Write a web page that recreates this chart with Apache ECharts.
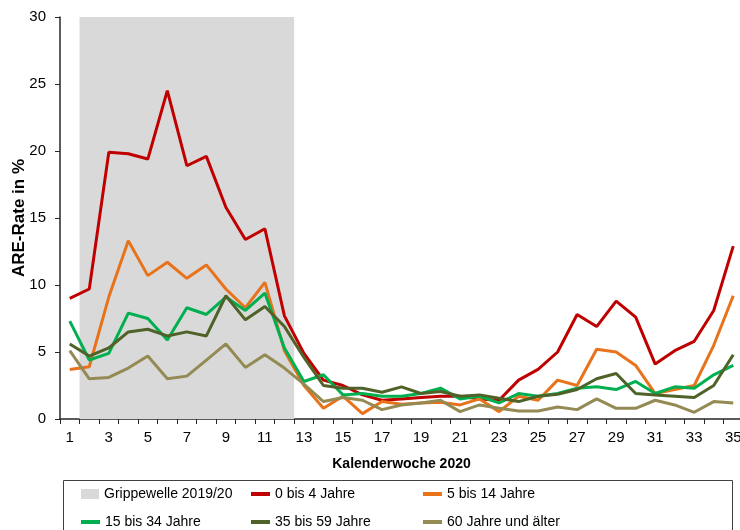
<!DOCTYPE html>
<html>
<head>
<meta charset="utf-8">
<script src="https://cdn.jsdelivr.net/npm/echarts@6/dist/echarts.min.js"></script>
<style>
  html, body { margin: 0; padding: 0; background: #fff; }
  #chart { width: 740px; height: 530px; }
</style>
</head>
<body>
<div id="chart"></div>
<script>
// Kalenderwochen 1..35
const weeks = ['1','2','3','4','5','6','7','8','9','10','11','12','13','14','15','16','17','18',
  '19','20','21','22','23','24','25','26','27','28','29','30','31','32','33','34','35']

// ARE-Rate in % je Altersgruppe
const age0to4 = [9.0, 9.7, 19.9, 19.8, 19.4, 24.5, 18.9, 19.6, 15.8, 13.4, 14.2, 7.7, 4.9, 2.9, 2.5, 1.8, 1.4, 1.5,
  1.6, 1.7, 1.7, 1.5, 1.4, 2.9, 3.7, 5.0, 7.8, 6.9, 8.8, 7.6, 4.1, 5.1, 5.8, 8.1, 12.9]
const age5to14 = [3.7, 3.9, 9.1, 13.3, 10.7, 11.7, 10.5, 11.5, 9.7, 8.3, 10.2, 5.1, 2.5, 0.8, 1.7, 0.4, 1.3, 1.1,
  1.2, 1.25, 1.05, 1.5, 0.55, 1.7, 1.4, 2.9, 2.5, 5.2, 5.0, 4.0, 1.9, 2.2, 2.5, 5.5, 9.2]
const age15to34 = [7.3, 4.4, 4.9, 7.9, 7.5, 5.9, 8.3, 7.8, 9.1, 8.1, 9.4, 5.3, 2.8, 3.3, 1.8, 1.9, 1.7, 1.7,
  1.9, 2.3, 1.5, 1.7, 1.2, 1.9, 1.7, 1.9, 2.3, 2.4, 2.2, 2.8, 1.9, 2.4, 2.3, 3.3, 4.0]
const age35to59 = [5.6, 4.7, 5.3, 6.5, 6.7, 6.2, 6.5, 6.2, 9.2, 7.4, 8.4, 6.9, 4.6, 2.5, 2.3, 2.3, 2.0, 2.4,
  1.9, 2.05, 1.7, 1.8, 1.55, 1.3, 1.7, 1.85, 2.2, 3.0, 3.4, 1.9, 1.8, 1.7, 1.6, 2.5, 4.8]
const age60plus = [5.1, 3.0, 3.1, 3.8, 4.7, 3.0, 3.2, 4.4, 5.6, 3.85, 4.8, 3.8, 2.6, 1.3, 1.6, 1.4, 0.7, 1.05,
  1.2, 1.4, 0.55, 1.05, 0.8, 0.6, 0.6, 0.9, 0.7, 1.5, 0.8, 0.8, 1.4, 1.05, 0.5, 1.3, 1.2]

// Grippewelle: KW 2 bis KW 12
const fluStart = 2
const fluEnd = 12

const font = 'Liberation Sans, Arial, sans-serif'
const axisColor = '#262626'

const lineSeries = [
  { name: '0 bis 4 Jahre', data: age0to4, color: '#c00000' },
  { name: '5 bis 14 Jahre', data: age5to14, color: '#e8731a' },
  { name: '15 bis 34 Jahre', data: age15to34, color: '#00b050' },
  { name: '35 bis 59 Jahre', data: age35to59, color: '#4f6228' },
  { name: '60 Jahre und älter', data: age60plus, color: '#948a54' }
]

// eine Legende je Eintrag, damit die Spalten fest stehen
const makeLegend = (left, top, item, w, h) => ({
  orient: 'horizontal',
  left: left,
  top: top,
  itemWidth: w || 19,
  itemHeight: h || 4,
  selectedMode: false,
  padding: 0,
  textStyle: { fontFamily: font, fontSize: 14, color: '#000' },
  data: [item]
})

const chart = echarts.init(document.getElementById('chart'), null, { renderer: 'canvas' })

const option = {
  backgroundColor: '#fff',
  animation: false,
  grid: { left: 60, right: -3, top: 17, bottom: 111, containLabel: false, outerBoundsMode: 'none' },
  xAxis: [{
    type: 'category',
    data: weeks,
    boundaryGap: true,
    name: 'Kalenderwoche 2020',
    nameLocation: 'middle',
    nameGap: 38,
    nameMoveOverlap: false,
    nameTextStyle: { fontFamily: font, fontSize: 14, fontWeight: 'bold', color: '#000' },
    axisLine: { lineStyle: { color: axisColor, width: 1.5 } },
    axisTick: { show: true, interval: 0, length: 5, lineStyle: { color: axisColor } },
    axisLabel: { interval: 1, fontFamily: font, fontSize: 15, color: '#000', margin: 11 },
    splitLine: { show: false }
  }, {
    // versteckte Werteachse, nur für die graue Fläche der Grippewelle
    type: 'value',
    min: 0.5,
    max: weeks.length + 0.5,
    show: false
  }],
  yAxis: {
    type: 'value',
    min: 0,
    max: 30,
    interval: 5,
    name: 'ARE-Rate in %',
    nameLocation: 'middle',
    nameGap: 32,
    nameMoveOverlap: false,
    nameTextStyle: { fontFamily: font, fontSize: 17, fontWeight: 'bold', color: '#000' },
    axisLine: { show: true, lineStyle: { color: axisColor, width: 1.5 } },
    axisTick: { show: true, length: 5, lineStyle: { color: axisColor } },
    axisLabel: { fontFamily: font, fontSize: 15, color: '#000', margin: 14 },
    splitLine: { show: false }
  },
  legend: [
    makeLegend(81, 487, { name: 'Grippewelle 2019/20', icon: 'rect', itemStyle: { color: '#d9d9d9' } }, 18, 10),
    makeLegend(251, 487, { name: '0 bis 4 Jahre', icon: 'rect' }),
    makeLegend(423, 487, { name: '5 bis 14 Jahre', icon: 'rect' }),
    makeLegend(81, 515, { name: '15 bis 34 Jahre', icon: 'rect' }),
    makeLegend(251, 515, { name: '35 bis 59 Jahre', icon: 'rect' }),
    makeLegend(423, 515, { name: '60 Jahre und älter', icon: 'rect' })
  ],
  graphic: [{
    type: 'rect',
    shape: { x: 63.5, y: 480.5, width: 669, height: 70 },
    style: { fill: 'none', stroke: '#404040', lineWidth: 1 },
    silent: true
  }],
  series: [
    {
      name: 'Grippewelle 2019/20',
      type: 'line',
      xAxisIndex: 1,
      data: [],
      itemStyle: { color: '#d9d9d9' },
      silent: true,
      markArea: {
        silent: true,
        itemStyle: { color: '#d9d9d9' },
        data: [[{ xAxis: fluStart - 0.5 }, { xAxis: fluEnd + 0.5 }]]
      }
    },
    ...lineSeries.map(s => ({
      name: s.name,
      type: 'line',
      data: s.data,
      showSymbol: false,
      symbol: 'none',
      lineStyle: { width: 3, color: s.color },
      itemStyle: { color: s.color }
    }))
  ]
}

chart.setOption(option)
</script>
</body>
</html>
